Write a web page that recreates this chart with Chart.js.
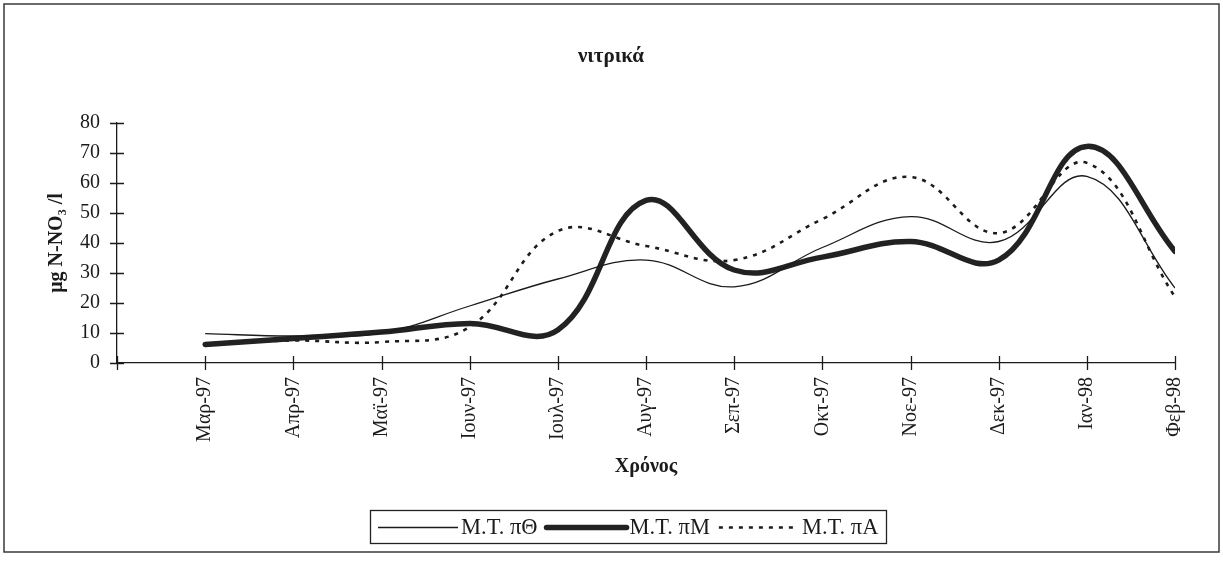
<!DOCTYPE html>
<html>
<head>
<meta charset="utf-8">
<script src="https://cdn.jsdelivr.net/npm/chart.js@4"></script>
<style>
  html, body { margin: 0; padding: 0; background: #fff; }
  canvas { display: block; }
</style>
</head>
<body>
<canvas id="nitrates" width="1223" height="568"></canvas>
<script>
const months = ["Μαρ-97","Απρ-97","Μαϊ-97","Ιουν-97","Ιουλ-97","Αυγ-97","Σεπ-97","Οκτ-97","Νοε-97","Δεκ-97","Ιαν-98","Φεβ-98"];
const seriesNames = ["Μ.Τ. πΘ", "Μ.Τ. πΜ", "Μ.Τ. πΑ"];
const mtTheta = [9.8, 9.0, 10.0, 19.0, 28.0, 34.3, 25.4, 38.5, 48.8, 40.5, 62.2, 25.0];
const mtM     = [6.2, 8.2, 10.3, 13.2, 11.0, 54.2, 31.0, 35.3, 40.5, 34.3, 72.2, 37.2];
const mtA     = [6.3, 7.5, 7.0, 12.0, 44.0, 39.0, 34.3, 48.0, 62.0, 43.3, 66.7, 22.0];
const yTicks  = [0, 10, 20, 30, 40, 50, 60, 70, 80];

const SERIF = "'Liberation Serif', 'Times New Roman', serif";
const INK = "#1b1b1b";

const pts = arr => arr.map((v, i) => ({ x: i, y: v }));

// frame, title, legend and crossing tick marks
const decor = {
  id: "decor",
  beforeDraw(chart) {
    const ctx = chart.ctx;
    ctx.save();
    ctx.fillStyle = "#fff";
    ctx.fillRect(0, 0, chart.width, chart.height);
    ctx.restore();
  },
  afterDraw(chart) {
    const ctx = chart.ctx;
    const xs = chart.scales.x, ys = chart.scales.y;
    ctx.save();

    // outer frame
    ctx.strokeStyle = "#3a3a3a";
    ctx.lineWidth = 1.5;
    ctx.strokeRect(4, 4, 1215, 548);

    // title
    ctx.fillStyle = INK;
    ctx.font = "bold 21px " + SERIF;
    ctx.textAlign = "center";
    ctx.textBaseline = "middle";
    ctx.fillText("νιτρικά", 611, 57);

    // tick marks crossing both axes
    ctx.strokeStyle = INK;
    ctx.lineWidth = 1.3;
    ctx.beginPath();
    yTicks.forEach(v => {
      const py = Math.round(ys.getPixelForValue(v)) + 0.5;
      ctx.moveTo(xs.left - 7, py);
      ctx.lineTo(xs.left + 7, py);
    });
    for (let i = -1; i < months.length; i++) {
      const px = Math.round(xs.getPixelForValue(i)) + 0.5;
      ctx.moveTo(px, ys.bottom - 7);
      ctx.lineTo(px, ys.bottom + 7);
    }
    ctx.stroke();

    // legend in a box
    ctx.font = "22.5px " + SERIF;
    ctx.textAlign = "left";
    const lineLen = 80, gapLine = 3, gapItem = 9, pad = 8;
    const items = chart.data.datasets.map(ds => ({
      ds, w: ctx.measureText(ds.label).width
    }));
    let total = pad * 2 + items.reduce((s, it) => s + lineLen + gapLine + it.w, 0) + gapItem * (items.length - 1);
    const boxL = Math.round(628 - total / 2), boxT = 510, boxH = 33;
    ctx.strokeStyle = "#222";
    ctx.lineWidth = 1.3;
    ctx.strokeRect(boxL + 0.5, boxT + 0.5, Math.round(total), boxH);
    const cy = boxT + boxH / 2 + 1;
    let cx = boxL + pad;
    items.forEach(it => {
      ctx.save();
      ctx.strokeStyle = it.ds.borderColor;
      ctx.lineWidth = it.ds.borderWidth;
      ctx.setLineDash(it.ds.borderDash || []);
      ctx.lineCap = it.ds.borderWidth > 3 ? "round" : "butt";
      ctx.beginPath();
      ctx.moveTo(cx, cy);
      ctx.lineTo(cx + lineLen, cy);
      ctx.stroke();
      ctx.restore();
      cx += lineLen + gapLine;
      ctx.fillStyle = INK;
      ctx.fillText(it.ds.label, cx, cy + 1);
      cx += it.w + gapItem;
    });
    ctx.restore();
  }
};

new Chart(document.getElementById("nitrates"), {
  type: "line",
  data: {
    datasets: [
      {
        label: seriesNames[0],
        data: pts(mtTheta),
        borderColor: INK,
        borderWidth: 1.3,
        pointRadius: 0,
        tension: 0.4,
        fill: false
      },
      {
        label: seriesNames[1],
        data: pts(mtM),
        borderColor: "#222",
        borderWidth: 5.5,
        pointRadius: 0,
        tension: 0.4,
        fill: false,
        borderCapStyle: "round"
      },
      {
        label: seriesNames[2],
        data: pts(mtA),
        borderColor: INK,
        borderWidth: 2.6,
        borderDash: [4, 6],
        pointRadius: 0,
        tension: 0.4,
        fill: false
      }
    ]
  },
  options: {
    responsive: false,
    animation: false,
    layout: { padding: { top: 123, right: 48, bottom: 83, left: 0 } },
    plugins: {
      legend: { display: false },
      title: { display: false },
      tooltip: { enabled: false }
    },
    scales: {
      x: {
        type: "linear",
        min: -1,
        max: 11,
        afterFit: s => { s.height = 122; },
        grid: { display: false, drawTicks: false },
        border: { display: true, color: INK, width: 1.3 },
        ticks: {
          stepSize: 1,
          autoSkip: false,
          minRotation: 90,
          maxRotation: 90,
          padding: 14,
          color: INK,
          font: { family: SERIF, size: 20 },
          callback: v => months[v] || ""
        },
        title: {
          display: true,
          text: "Χρόνος",
          color: INK,
          font: { family: SERIF, size: 20, weight: "bold" },
          padding: { top: 0, bottom: 6 }
        }
      },
      y: {
        min: 0,
        max: 80,
        afterFit: s => { s.width = 117; },
        grid: { display: false, drawTicks: false },
        border: { display: true, color: INK, width: 1.3 },
        ticks: {
          stepSize: 10,
          padding: 17,
          color: INK,
          font: { family: SERIF, size: 20 }
        },
        title: {
          display: true,
          text: "μg N-NO₃ /l",
          color: INK,
          font: { family: SERIF, size: 20, weight: "bold" },
          padding: { top: 45, bottom: 0 }
        }
      }
    }
  },
  plugins: [decor]
});
</script>
</body>
</html>
